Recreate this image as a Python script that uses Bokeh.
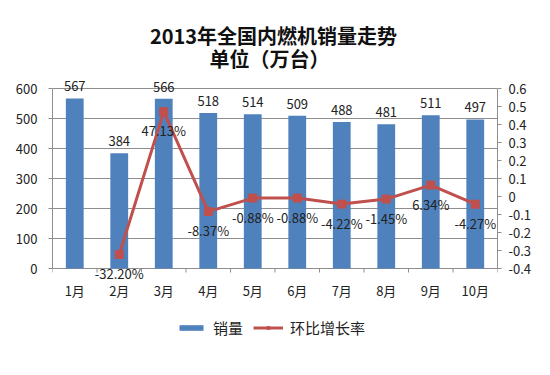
from bokeh.plotting import figure
from bokeh.models import (Range1d, LinearAxis, FixedTicker, ColumnDataSource, LabelSet,
                          Label, Legend, LegendItem)
from bokeh.core.properties import value
from bokeh.embed import file_html
from bokeh.resources import INLINE

# ---- data ----
months = ["1月", "2月", "3月", "4月", "5月", "6月", "7月", "8月", "9月", "10月"]
sales = [567, 384, 566, 518, 514, 509, 488, 481, 511, 497]
growth = [None, -0.3220, 0.4713, -0.0837, -0.0088, -0.0088, -0.0422, -0.0145, 0.0634, -0.0427]
left_ticks = [0, 100, 200, 300, 400, 500, 600]
right_ticks = [-0.4, -0.3, -0.2, -0.1, 0.0, 0.1, 0.2, 0.3, 0.4, 0.5, 0.6]
right_tick_labels = ["-0.4", "-0.3", "-0.2", "-0.1", "0", "0.1", "0.2", "0.3", "0.4", "0.5", "0.6"]
title_text = "2013年全国内燃机销量走势"
subtitle_text = "单位（万台）"
series_names = ["销量", "环比增长率"]

FONT = "Noto Sans CJK SC"
BLUE = "#4F81BD"
RED = "#C0504D"
GRID = "#8e8e8e"
TXT = "#222222"

# layout (pixels): the frame spans the full canvas height
W, H = 534, 359
BORDER_L, BORDER_R = 52, 36
PLOT_H = 180          # height of the 0..600 area
PAD_TOP = 88          # frame space above 600
PAD_BOT = H - PLOT_H - PAD_TOP
L0, L1 = 0, 600
R0, R1 = -0.4, 0.6
lpp = (L1 - L0) / PLOT_H
rpp = (R1 - R0) / PLOT_H

xs = list(range(1, len(months) + 1))

p = figure(width=W, height=H, output_backend="svg", toolbar_location=None,
           x_range=Range1d(0.5, len(months) + 0.5),
           y_range=Range1d(L0 - PAD_BOT * lpp, L1 + PAD_TOP * lpp),
           min_border_left=BORDER_L, min_border_right=BORDER_R,
           min_border_top=0, min_border_bottom=0)
p.extra_y_ranges = {"r": Range1d(R0 - PAD_BOT * rpp, R1 + PAD_TOP * rpp)}
p.outline_line_color = None
p.background_fill_color = "white"
p.border_fill_color = "white"
p.xaxis.visible = False
p.xgrid.visible = False

# gridlines
p.ygrid.ticker = FixedTicker(ticks=left_ticks)
p.ygrid.grid_line_color = GRID
p.ygrid.grid_line_width = 1

# category boundary ticks under the x axis line
bx = [x - 0.5 for x in xs] + [len(xs) + 0.5]
p.segment(x0=bx, y0=[0] * len(bx), x1=bx, y1=[-4 * lpp] * len(bx), line_color=GRID, line_width=1)

# bars
bar_src = ColumnDataSource(dict(x=xs, top=sales, lab=[str(v) for v in sales]))
bars = p.vbar(x="x", top="top", width=0.4, source=bar_src, fill_color=BLUE, line_color=None)

# line
gx = [x for x, g in zip(xs, growth) if g is not None]
gy = [g for g in growth if g is not None]
line_src = ColumnDataSource(dict(x=gx, y=gy, lab=["%.2f%%" % (g * 100) for g in gy]))
ln = p.line(x="x", y="y", source=line_src, y_range_name="r", line_color=RED, line_width=3)
mk = p.scatter(x="x", y="y", source=line_src, y_range_name="r", marker="square", size=8,
               fill_color=RED, line_color=RED)

# month labels under the axis
p.text(x=xs, y=[0] * len(xs), text=months, text_align="center", text_baseline="middle",
       y_offset=22, text_font=value(FONT), text_font_size="13px", text_color=TXT)

# value labels
p.add_layout(LabelSet(x="x", y="top", text="lab", source=bar_src, text_align="center",
                      text_baseline="bottom", y_offset=7, text_font=value(FONT),
                      text_font_size="13px", text_color=TXT))
p.add_layout(LabelSet(x="x", y="y", text="lab", source=line_src, y_range_name="r",
                      text_align="center", text_baseline="middle", y_offset=-19,
                      text_font=value(FONT), text_font_size="13px", text_color=TXT))

# y axes
p.yaxis.ticker = FixedTicker(ticks=left_ticks)
p.yaxis.bounds = (L0, L1)
p.yaxis.axis_line_color = GRID
p.yaxis.major_tick_line_color = GRID
p.yaxis.major_tick_out = 4
p.yaxis.major_tick_in = 0
p.yaxis.minor_tick_line_color = None
p.yaxis.major_label_standoff = 11

ra = LinearAxis(y_range_name="r", ticker=FixedTicker(ticks=right_ticks), bounds=(R0, R1))
ra.major_label_overrides = {t: l for t, l in zip(right_ticks, right_tick_labels)}
ra.axis_line_color = GRID
ra.major_tick_line_color = GRID
ra.major_tick_out = 4
ra.major_tick_in = 0
ra.minor_tick_line_color = None
ra.major_label_standoff = 7
p.add_layout(ra, "right")

for ax in [p.yaxis[0], ra]:
    ax.major_label_text_font = FONT
    ax.major_label_text_font_size = "13px"
    ax.major_label_text_color = TXT

# titles
p.add_layout(Label(x=221, y=H - 35, x_units="screen", y_units="screen", text=title_text,
                   text_align="center", text_baseline="middle", text_font=FONT,
                   text_font_size="20px", text_font_style="bold", text_color="#111111"))
p.add_layout(Label(x=217, y=H - 58, x_units="screen", y_units="screen", text=subtitle_text,
                   text_align="center", text_baseline="middle", text_font=FONT,
                   text_font_size="20px", text_font_style="bold", text_color="#111111"))

# legend
legend = Legend(items=[LegendItem(label=series_names[0], renderers=[bars]),
                       LegendItem(label=series_names[1], renderers=[ln, mk])],
                orientation="horizontal", location=(124, 21),
                glyph_width=30, glyph_height=7, label_standoff=7, spacing=10,
                label_text_font=FONT, label_text_font_size="15px", label_text_color=TXT,
                border_line_color=None, background_fill_alpha=0, margin=0, padding=4)
p.add_layout(legend)

open("out.html", "w").write(file_html(p, INLINE))
